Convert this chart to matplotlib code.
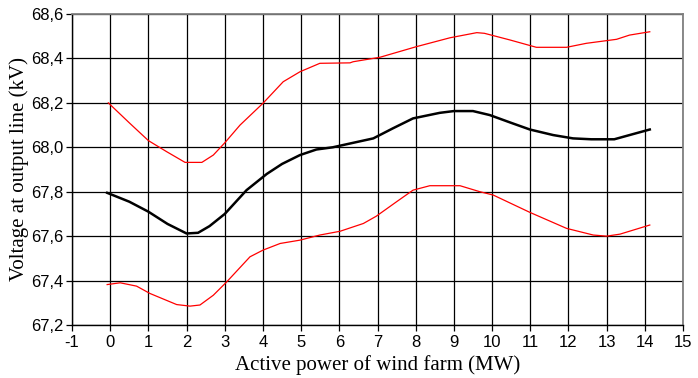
import matplotlib.pyplot as plt
from matplotlib.ticker import FuncFormatter

# values
mid_x = [-0.08, 0.5, 1.0, 1.5, 2.0, 2.3, 2.6, 3.0, 3.57, 4.1, 4.5, 4.97, 5.4, 5.83, 6.28,
         6.89, 7.4, 7.93, 8.63, 9.0, 9.5, 9.94, 10.5, 10.99, 11.6, 12.12, 12.6, 13.2,
         13.6, 14.13]
mid_y = [67.795, 67.755, 67.71, 67.655, 67.612, 67.615, 67.645, 67.70, 67.807, 67.88,
         67.925, 67.965, 67.99, 68.0, 68.017, 68.04, 68.085, 68.13, 68.155, 68.163,
         68.163, 68.145, 68.11, 68.08, 68.055, 68.04, 68.036, 68.036, 68.055, 68.08]

up_x = [-0.05, 0.5, 1.0, 1.48, 1.96, 2.4, 2.7, 3.0, 3.4, 4.0, 4.53, 4.97, 5.49, 6.28,
        6.36, 7.06, 8.02, 8.9, 9.6, 9.8, 10.47, 11.16, 11.95, 12.47, 13.26, 13.6, 14.13]
up_y = [68.2, 68.11, 68.03, 67.98, 67.932, 67.932, 67.965, 68.02, 68.1, 68.198, 68.295,
        68.34, 68.378, 68.38, 68.385, 68.405, 68.453, 68.493, 68.516, 68.513, 68.483,
        68.45, 68.45, 68.468, 68.486, 68.505, 68.52]

low_x = [-0.08, 0.26, 0.69, 1.04, 1.74, 2.09, 2.35, 2.7, 3.05, 3.66, 4.0, 4.45, 4.97,
         5.49, 6.02, 6.63, 6.97, 7.5, 7.93, 8.37, 9.16, 9.68, 10.03, 10.99, 11.95, 12.65,
         13.0, 13.35, 14.13]
low_y = [67.382, 67.39, 67.375, 67.342, 67.292, 67.285, 67.29, 67.334, 67.394, 67.507,
         67.537, 67.567, 67.582, 67.605, 67.622, 67.657, 67.69, 67.755, 67.807, 67.827,
         67.827, 67.8, 67.785, 67.707, 67.635, 67.605, 67.6, 67.609, 67.65]

x_ticks = list(range(-1, 16))
y_ticks = [67.2, 67.4, 67.6, 67.8, 68.0, 68.2, 68.4, 68.6]

plt.rcParams['axes.unicode_minus'] = False

fig = plt.figure(figsize=(6.98, 3.78), dpi=100)
ax = fig.add_axes([0.1032, 0.1402, 0.8753, 0.8228])

ax.plot(up_x, up_y, color='red', lw=0.9)
ax.plot(low_x, low_y, color='red', lw=0.9)
ax.plot(mid_x, mid_y, color='black', lw=1.8)

ax.set_xlim(-1, 15)
ax.set_ylim(67.2, 68.6)
ax.set_xticks(x_ticks)
ax.set_yticks(y_ticks)
ax.yaxis.set_major_formatter(FuncFormatter(lambda v, p: f"{v:.1f}".replace('.', ',')))

ax.grid(True, color='black', lw=0.9)
ax.set_axisbelow(True)
for s in ['top', 'right']:
    ax.spines[s].set_color('#808080')
    ax.spines[s].set_linewidth(1.3)
for s in ['left', 'bottom']:
    ax.spines[s].set_color('black')
    ax.spines[s].set_linewidth(1.0)

ax.tick_params(direction='out', length=4, width=0.9, labelsize=12)
ax.tick_params(axis='x', pad=3)
ax.tick_params(axis='y', pad=2)
for lab in ax.get_xticklabels() + ax.get_yticklabels():
    lab.set_family('Liberation Sans')

ax.set_xlabel('Active power of wind farm (MW)', family='Liberation Serif', fontsize=15, labelpad=4)
ax.set_ylabel('Voltage at output line (kV)', family='Liberation Serif', fontsize=15, labelpad=2)

plt.savefig('out.png', dpi=100)
